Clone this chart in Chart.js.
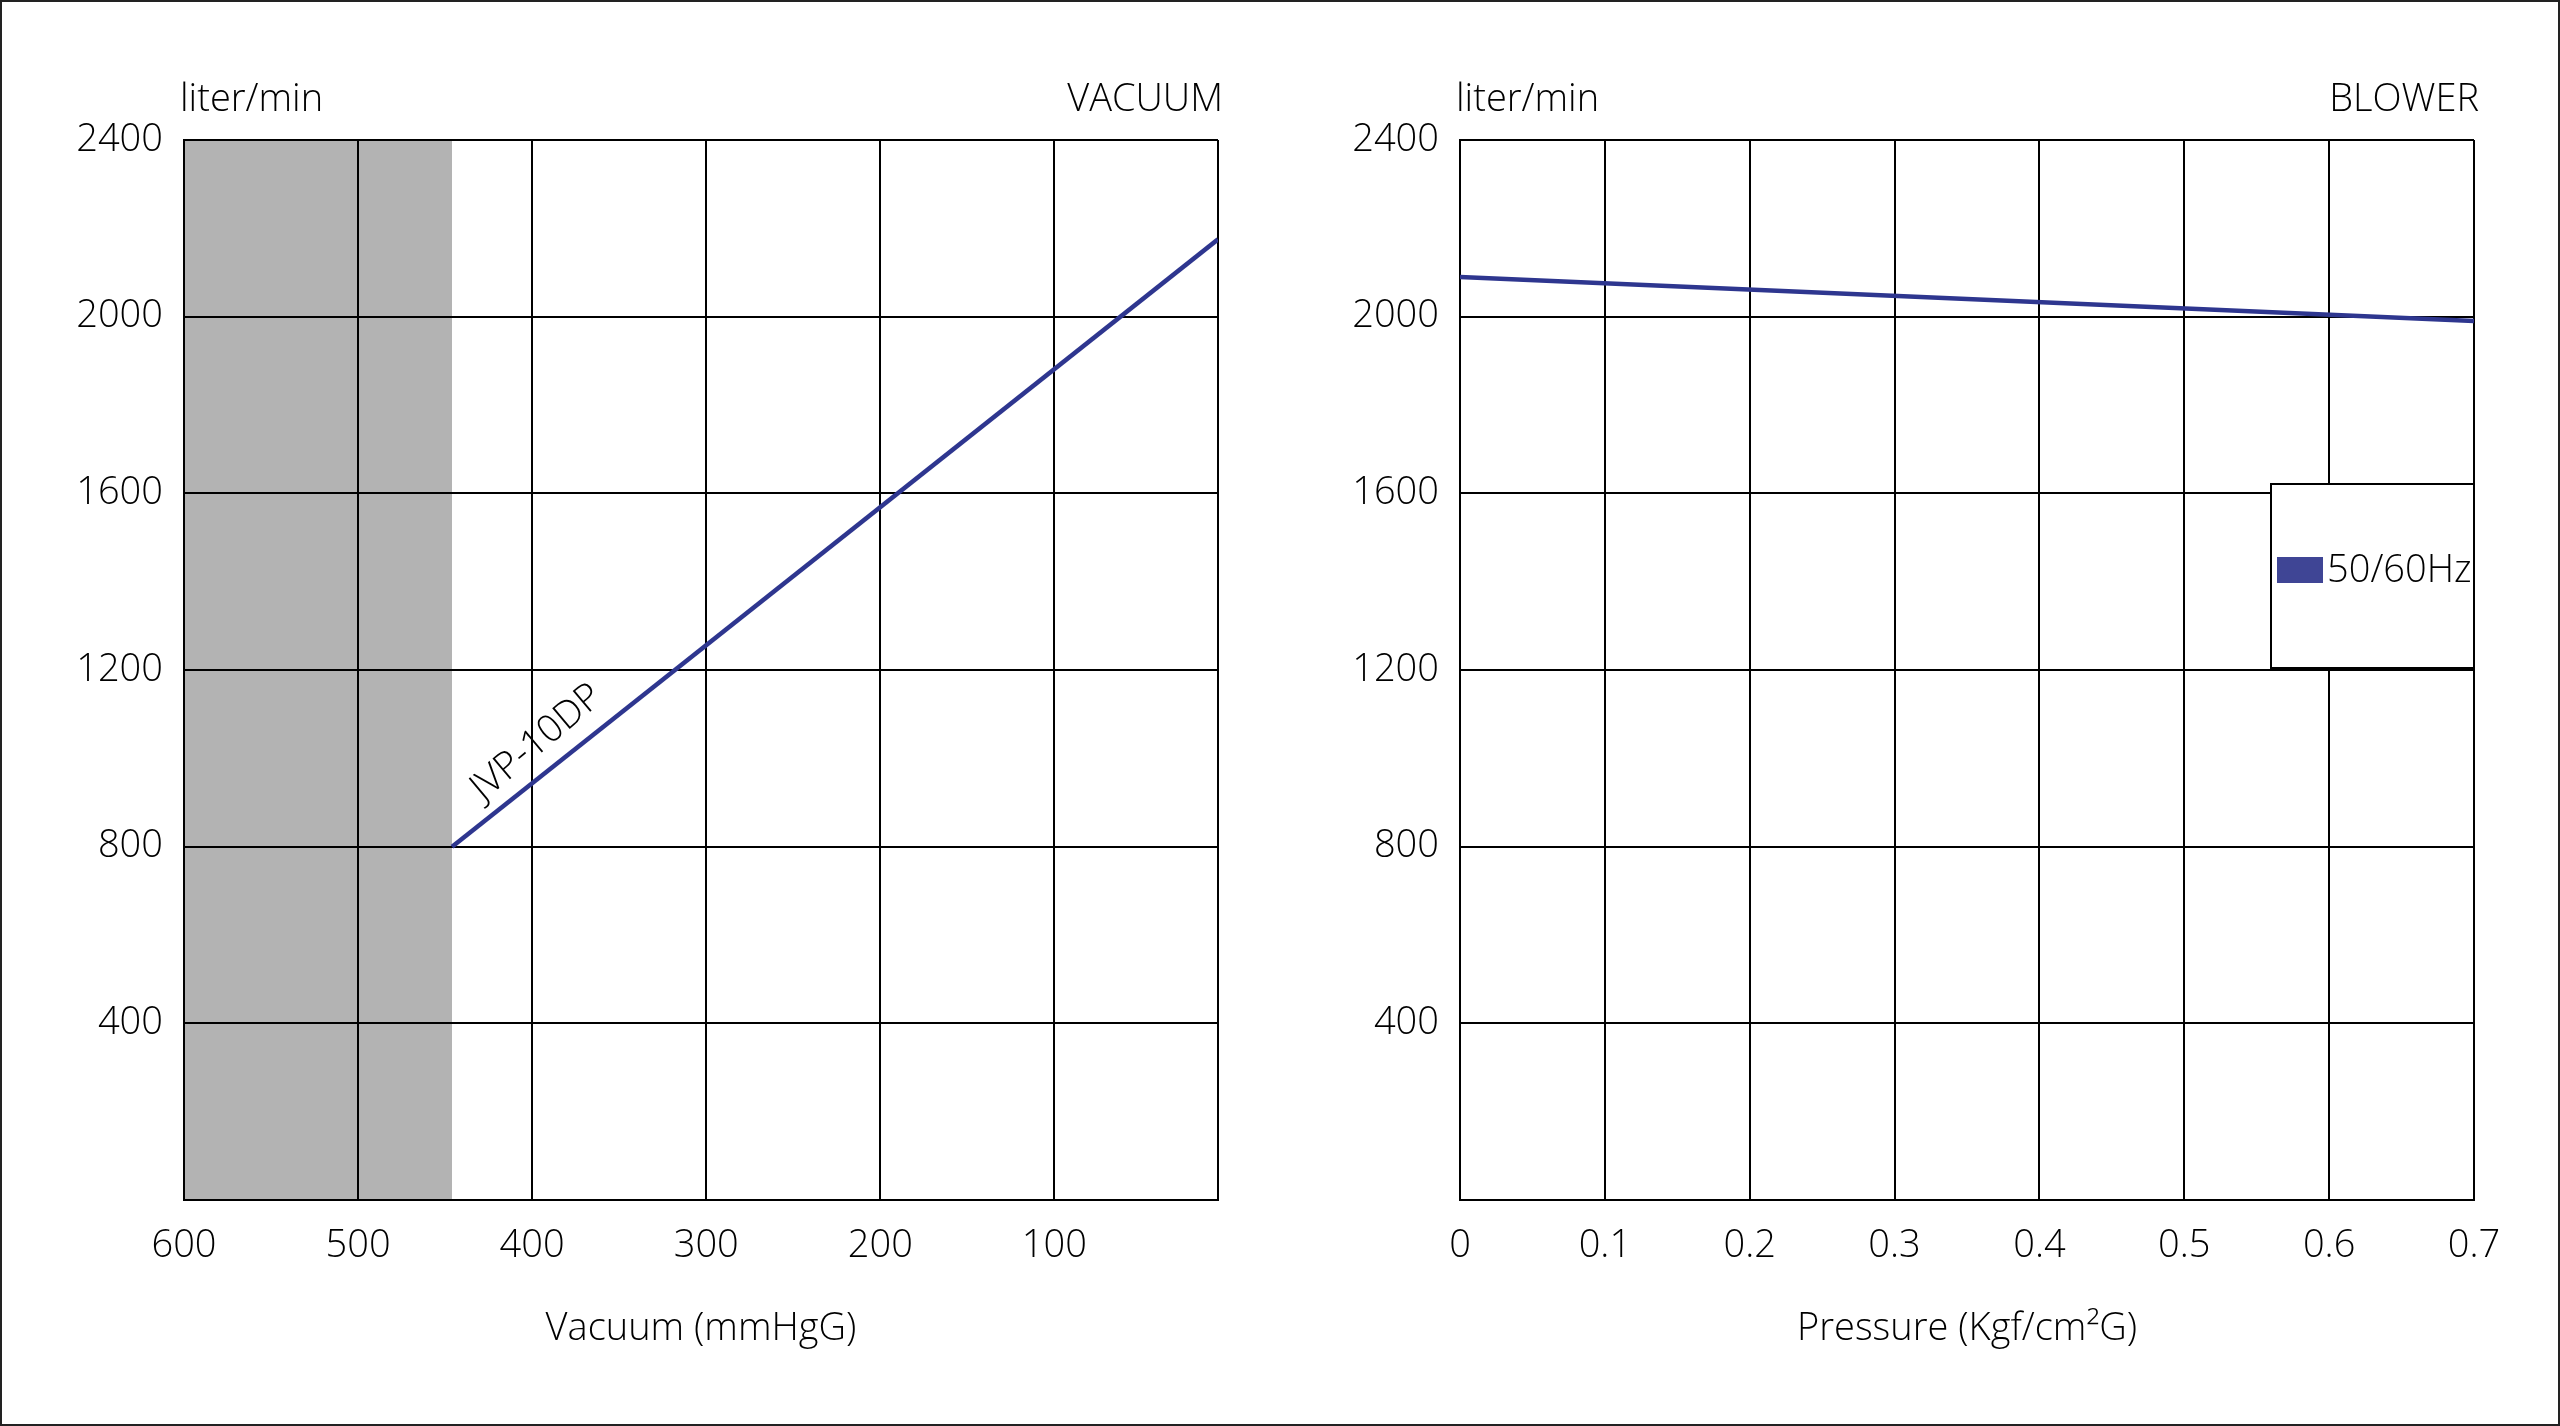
<!DOCTYPE html>
<html><head><meta charset="utf-8">
<script src="https://cdn.jsdelivr.net/npm/chart.js@4.4.1/dist/chart.umd.min.js"></script>
<style>
html,body{margin:0;padding:0;background:#fff;width:2560px;height:1426px;overflow:hidden;}
.box{position:absolute;top:0;height:1426px;}
#left{left:0;width:1290px;}
#right{left:1290px;width:1270px;}
#frame{position:absolute;left:0;top:0;width:2560px;height:1426px;box-sizing:border-box;border:2px solid #222;pointer-events:none;}
canvas{display:block;}
</style></head><body>
<div class="box" id="left"><canvas id="c1"></canvas></div>
<div class="box" id="right"><canvas id="c2"></canvas></div>
<div id="frame"></div>
<script>
// ---- data ----
const flowTicks = [0, 400, 800, 1200, 1600, 2000, 2400];
const vacuumTicks = [600, 500, 400, 300, 200, 100];
const pressureTicks = [0, 0.1, 0.2, 0.3, 0.4, 0.5, 0.6, 0.7];
const vacuumRange = [6, 600];          // axis min, max (reversed)
const pressureRange = [0, 0.7];
const flowRange = [0, 2400];
const vacuumX = [446, 6];
const vacuumFlow = [800, 2175];
const shadeX = [600, 446];
const shadeFlow = [2400, 2400];
const pressureX = [0, 0.7];
const blowerFlow = [2090, 1990];
const vacuumLabel = 'JVP-10DP';
const blowerLabel = '50/60Hz';
const unitLabel = 'liter/min';
const leftTitle = 'VACUUM';
const rightTitle = 'BLOWER';
const leftAxisTitle = 'Vacuum (mmHgG)';
const rightAxisTitle = 'Pressure (Kgf/cm²G)';

// ---- style ----
const FAMILY = "'Open Sans', 'Noto Sans', sans-serif";
const WEIGHT = '300';
const SIZE = 38;
const font = {family: FAMILY, size: SIZE, weight: WEIGHT};
const TEXT = '#000';
const LINE = '#2e368f';
const SWATCH = '#3f4595';
const SHADE = '#b3b3b3';
const fontStr = `${WEIGHT} ${SIZE}px ${FAMILY}`;

function yScale(width) {
  return {
    type: 'linear', min: flowRange[0], max: flowRange[1],
    afterBuildTicks: s => { s.ticks = flowTicks.map(v => ({value: v})); },
    ticks: {padding: 21, color: TEXT, font, callback: v => v === 0 ? '' : String(v)},
    grid: {color: '#000', lineWidth: 2, drawTicks: false},
    border: {display: true, color: '#000', width: 2},
    afterFit: s => { s.width = width; }
  };
}

const cornerText = (title) => ({
  id: 'cornerText',
  afterDraw(chart) {
    const {ctx, chartArea: a} = chart;
    ctx.save();
    ctx.font = fontStr;
    ctx.fillStyle = TEXT;
    ctx.textBaseline = 'middle';
    ctx.textAlign = 'left';
    ctx.fillText(unitLabel, a.left - 4, 100);
    ctx.textAlign = 'right';
    ctx.fillText(title, a.right + 5, 100);
    ctx.restore();
  }
});

const lineLabel = {
  id: 'lineLabel',
  afterDatasetsDraw(chart) {
    const meta = chart.getDatasetMeta(1);
    const p0 = meta.data[0], p1 = meta.data[1];
    const ang = Math.atan2(p1.y - p0.y, p1.x - p0.x);
    const t = 0.134;
    const ax = p0.x + t * (p1.x - p0.x), ay = p0.y + t * (p1.y - p0.y);
    const d = 29;
    const cx = ax + d * Math.sin(ang), cy = ay - d * Math.cos(ang);
    const {ctx} = chart;
    ctx.save();
    ctx.translate(cx, cy);
    ctx.rotate(ang - 0.03);
    ctx.font = fontStr;
    ctx.fillStyle = TEXT;
    ctx.textAlign = 'center';
    ctx.textBaseline = 'middle';
    ctx.fillText(chart.data.datasets[1].label, 0, 0);
    ctx.restore();
  }
};

const boxLegend = {
  id: 'boxLegend',
  afterDraw(chart) {
    const {ctx, chartArea: a} = chart;
    const w = 203, h = 184;
    const l = a.right - w, t = a.top + 344;
    ctx.save();
    ctx.fillStyle = '#fff';
    ctx.fillRect(l, t, w, h);
    ctx.strokeStyle = '#000';
    ctx.lineWidth = 2;
    ctx.strokeRect(l, t, w, h);
    const ds = chart.data.datasets[0];
    ctx.fillStyle = SWATCH;
    ctx.fillRect(l + 6, t + 73, 46, 26);
    ctx.font = fontStr;
    ctx.fillStyle = TEXT;
    ctx.textAlign = 'left';
    ctx.textBaseline = 'middle';
    ctx.fillText(ds.label, l + 56, t + 87);
    ctx.restore();
  }
};

// ---- left: vacuum ----
new Chart(document.getElementById('c1'), {
  type: 'line',
  data: {
    datasets: [
      {label: 'shade', data: shadeX.map((x, i) => ({x, y: shadeFlow[i]})),
       fill: 'origin', backgroundColor: SHADE, borderColor: 'rgba(0,0,0,0)', borderWidth: 0, pointRadius: 0},
      {label: vacuumLabel, data: vacuumX.map((x, i) => ({x, y: vacuumFlow[i]})),
       fill: false, borderColor: LINE, borderWidth: 4.5, pointRadius: 0, borderCapStyle: 'butt'}
    ]
  },
  options: {
    responsive: true, maintainAspectRatio: false, animation: false,
    layout: {padding: {left: 0, top: 140, right: 72, bottom: 0}},
    plugins: {legend: {display: false}, tooltip: {enabled: false}, filler: {drawTime: 'beforeDraw'}},
    scales: {
      x: {
        type: 'linear', reverse: true, min: vacuumRange[0], max: vacuumRange[1],
        afterBuildTicks: s => { s.ticks = [vacuumRange[0], ...vacuumTicks].map(v => ({value: v})); },
        ticks: {padding: 23, color: TEXT, font, maxRotation: 0, autoSkip: false,
                callback: v => vacuumTicks.includes(v) ? String(v) : ''},
        grid: {color: '#000', lineWidth: 2, drawTicks: false},
        border: {display: true, color: '#000', width: 2},
        title: {display: true, text: leftAxisTitle, color: TEXT, font, padding: {top: 0, bottom: 74}},
        afterFit: s => { s.height = 226; }
      },
      y: yScale(184)
    }
  },
  plugins: [cornerText(leftTitle), lineLabel]
});

// ---- right: blower ----
new Chart(document.getElementById('c2'), {
  type: 'line',
  data: {
    datasets: [
      {label: blowerLabel, data: pressureX.map((x, i) => ({x, y: blowerFlow[i]})),
       fill: false, borderColor: LINE, borderWidth: 4.5, pointRadius: 0, borderCapStyle: 'butt'}
    ]
  },
  options: {
    responsive: true, maintainAspectRatio: false, animation: false,
    layout: {padding: {left: 0, top: 140, right: 86, bottom: 0}},
    plugins: {legend: {display: false}, tooltip: {enabled: false}},
    scales: {
      x: {
        type: 'linear', min: pressureRange[0], max: pressureRange[1],
        afterBuildTicks: s => { s.ticks = pressureTicks.map(v => ({value: v})); },
        ticks: {padding: 23, color: TEXT, font, maxRotation: 0, autoSkip: false,
                callback: v => v === 0 ? '0' : Number(v).toFixed(1)},
        grid: {color: '#000', lineWidth: 2, drawTicks: false},
        border: {display: true, color: '#000', width: 2},
        title: {display: true, text: rightAxisTitle, color: TEXT, font, padding: {top: 0, bottom: 74}},
        afterFit: s => { s.height = 226; }
      },
      y: yScale(170)
    }
  },
  plugins: [cornerText(rightTitle), boxLegend]
});
</script>
</body></html>
